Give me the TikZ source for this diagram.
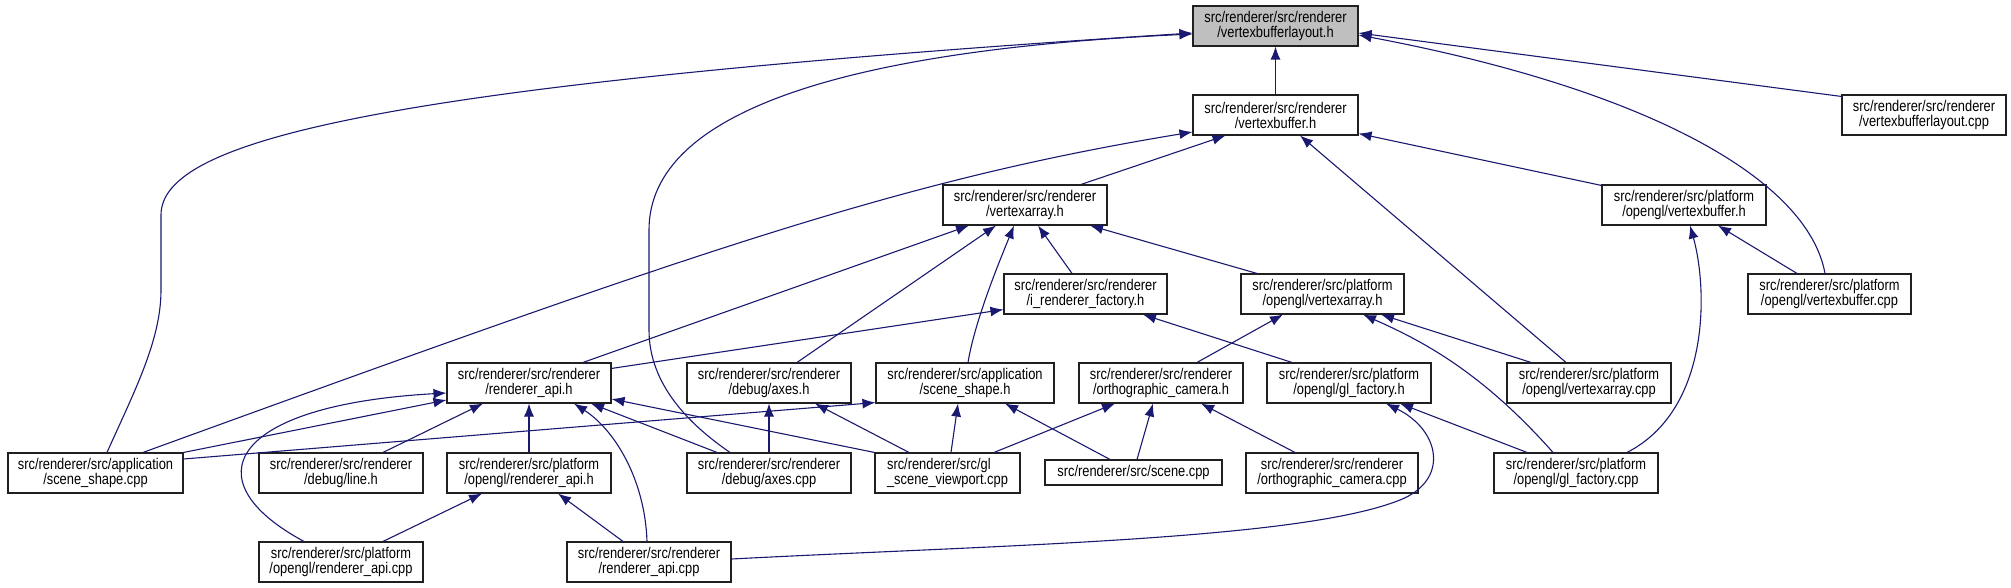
\documentclass[tikz,border=0pt]{standalone}
\usepackage{fontspec}
\setmainfont{Liberation Sans}[FakeStretch=0.83]
\usetikzlibrary{arrows.meta,calc}
\definecolor{edgeblue}{HTML}{191970}
\definecolor{rootgray}{HTML}{BFBFBF}
\definecolor{boxline}{HTML}{202020}
\begin{document}
\begin{tikzpicture}[x=1pt,y=-1pt,
  box/.style={draw=boxline, line width=1.1pt, fill=white, minimum height=40pt, minimum width=164pt,
    inner sep=0pt, align=center, font=\fontsize{15.5}{15}\selectfont},
  rootbox/.style={box, fill=rootgray},
  edge/.style={draw=edgeblue, line width=1.1pt, -{Latex[length=13pt,width=10pt]}}]
\useasboundingbox (0,0) rectangle (2011,588);
% nodes
\node[rootbox, minimum width=165pt] (vbl_h) at (1275.5,26) {src/renderer/src/renderer\\/vertexbufferlayout.h};
\node[box, minimum width=165pt] (vb_h) at (1275.5,115) {src/renderer/src/renderer\\/vertexbuffer.h};
\node[box] (vbl_cpp) at (1924,115) {src/renderer/src/renderer\\/vertexbufferlayout.cpp};
\node[box] (va_h) at (1025,205) {src/renderer/src/renderer\\/vertexarray.h};
\node[box] (ogl_vb_h) at (1684,205) {src/renderer/src/platform\\/opengl/vertexbuffer.h};
\node[box, minimum width=163pt] (irf_h) at (1085.5,294) {src/renderer/src/renderer\\/i\_renderer\_factory.h};
\node[box, minimum width=163pt] (ogl_va_h) at (1322.5,294) {src/renderer/src/platform\\/opengl/vertexarray.h};
\node[box, minimum width=163pt] (ogl_vb_cpp) at (1829.5,294) {src/renderer/src/platform\\/opengl/vertexbuffer.cpp};
\node[box] (rapi_h) at (529,383) {src/renderer/src/renderer\\/renderer\_api.h};
\node[box] (axes_h) at (769,383) {src/renderer/src/renderer\\/debug/axes.h};
\node[box, minimum width=178pt] (ss_h) at (965,383) {src/renderer/src/application\\/scene\_shape.h};
\node[box] (ortho_h) at (1161,383) {src/renderer/src/renderer\\/orthographic\_camera.h};
\node[box] (glf_h) at (1349,383) {src/renderer/src/platform\\/opengl/gl\_factory.h};
\node[box] (ogl_va_cpp) at (1589,383) {src/renderer/src/platform\\/opengl/vertexarray.cpp};
\node[box, minimum width=175pt] (ss_cpp) at (95.5,473) {src/renderer/src/application\\/scene\_shape.cpp};
\node[box] (line_h) at (341,473) {src/renderer/src/renderer\\/debug/line.h};
\node[box] (ogl_rapi_h) at (529,473) {src/renderer/src/platform\\/opengl/renderer\_api.h};
\node[box] (axes_cpp) at (769,473) {src/renderer/src/renderer\\/debug/axes.cpp};
\node[box, minimum width=145pt, align=left] (glsv_cpp) at (947.5,473) {src/renderer/src/gl\\\_scene\_viewport.cpp};
\node[box, minimum width=177pt, minimum height=25pt] (scene_cpp) at (1133.5,472.5) {src/renderer/src/scene.cpp};
\node[box, minimum width=172pt] (ortho_cpp) at (1332,473) {src/renderer/src/renderer\\/orthographic\_camera.cpp};
\node[box] (glf_cpp) at (1576,473) {src/renderer/src/platform\\/opengl/gl\_factory.cpp};
\node[box] (ogl_rapi_cpp) at (341,562) {src/renderer/src/platform\\/opengl/renderer\_api.cpp};
\node[box] (rapi_cpp) at (649,562) {src/renderer/src/renderer\\/renderer\_api.cpp};
% edges
\draw[edge] (vb_h.north) -- (vbl_h.south);
\draw[edge] ($(ss_cpp.north)+(11.5,0)$) .. controls (135,390) and (161,340) .. (161,290) -- (161,215) .. controls (161,140) and (380,85) .. ($(vbl_h.west)+(0,7)$);
\draw[edge] ($(axes_cpp.north)+(-39,0)$) .. controls (690,425) and (649,385) .. (649,330) -- (649,230) .. controls (649,110) and (850,50) .. ($(vbl_h.west)+(0,8)$);
\draw[edge] ($(vbl_cpp.north west)+(0,2)$) -- ($(vbl_h.east)+(0,7)$);
\draw[edge] ($(ogl_vb_cpp.north)+(-4.5,0)$) .. controls (1808,180) and (1650,90) .. ($(vbl_h.east)+(0,9)$);
\draw[edge] ($(va_h.north)+(56,0)$) -- ($(vb_h.south)+(-50,0)$);
\draw[edge] ($(ss_cpp.north)+(47.5,0)$) .. controls (700,250) and (900,180) .. ($(vb_h.west)+(0,17)$);
\draw[edge] ($(ogl_va_cpp.north)+(-23,0)$) -- ($(vb_h.south)+(24.5,0)$);
\draw[edge] ($(ogl_vb_h.north west)+(0,1)$) -- ($(vb_h.south east)+(0,-2)$);
\draw[edge] ($(rapi_h.north)+(54,0)$) -- ($(va_h.south)+(-56,0)$);
\draw[edge] ($(axes_h.north)+(28,0)$) -- ($(va_h.south)+(-29,0)$);
\draw[edge] ($(ss_h.north)+(3,0)$) .. controls (975,320) and (1000,260) .. ($(va_h.south)+(-11,0)$);
\draw[edge] ($(irf_h.north)+(-13.5,0)$) -- ($(va_h.south)+(13,0)$);
\draw[edge] ($(ogl_va_h.north)+(-65.5,0)$) -- ($(va_h.south)+(65,0)$);
\draw[edge] ($(ogl_vb_cpp.north)+(-32.5,0)$) -- ($(ogl_vb_h.south)+(34,0)$);
\draw[edge] ($(glf_cpp.north)+(51,0)$) .. controls (1710,410) and (1708,290) .. ($(ogl_vb_h.south)+(6,0)$);
\draw[edge] ($(rapi_h.north east)+(0,6)$) -- ($(irf_h.south west)+(0,-5)$);
\draw[edge] ($(glf_h.north)+(-57,0)$) -- ($(irf_h.south)+(57.5,0)$);
\draw[edge] ($(ortho_h.north)+(36,0)$) -- ($(ogl_va_h.south)+(-39.5,0)$);
\draw[edge] ($(ogl_va_cpp.north)+(-58,0)$) -- ($(ogl_va_h.south)+(58.5,0)$);
\draw[edge] ($(glf_cpp.north)+(-23,0)$) .. controls (1480,370) and (1420,340) .. ($(ogl_va_h.south)+(40.5,0)$);
\draw[edge] (ss_cpp.north east) -- ($(rapi_h.west)+(0,17)$);
\draw[edge] ($(ogl_rapi_cpp.north)+(-37,0)$) .. controls (190,480) and (230,405) .. ($(rapi_h.west)+(0,10)$);
\draw[edge] ($(line_h.north)+(42,0)$) -- ($(rapi_h.south)+(-46,0)$);
\draw[edge] (ogl_rapi_h.north) -- (rapi_h.south);
\draw[edge] ($(rapi_cpp.north)+(-2,0)$) .. controls (645,480) and (615,430) .. ($(rapi_h.south)+(45,0)$);
\draw[edge] ($(axes_cpp.north)+(-52,0)$) -- ($(rapi_h.south)+(62,0)$);
\draw[edge] (glsv_cpp.north west) -- ($(rapi_h.east)+(0,16)$);
\draw[edge] ($(ss_cpp.east)+(0,-14)$) -- ($(ss_h.south west)+(0,-1)$);
\draw[edge] (axes_cpp.north) -- (axes_h.south);
\draw[edge] ($(glsv_cpp.north)+(-38.5,0)$) -- ($(axes_h.south)+(46,0)$);
\draw[edge] ($(glsv_cpp.north)+(3.5,0)$) -- ($(ss_h.south)+(-7,0)$);
\draw[edge] ($(scene_cpp.north)+(-23.5,0)$) -- ($(ss_h.south)+(40,0)$);
\draw[edge] ($(glsv_cpp.north)+(46.5,0)$) -- ($(ortho_h.south)+(-46,0)$);
\draw[edge] ($(scene_cpp.north)+(3.5,0)$) -- ($(ortho_h.south)+(-8,0)$);
\draw[edge] ($(ortho_cpp.north)+(-37,0)$) -- ($(ortho_h.south)+(40,0)$);
\draw[edge] ($(glf_cpp.north)+(-49,0)$) -- ($(glf_h.south)+(51,0)$);
\draw[edge] ($(rapi_cpp.east)+(0,-3)$) .. controls (1000,545) and (1300,540) .. (1400,500) .. controls (1450,480) and (1440,430) .. ($(glf_h.south)+(37,0)$);
\draw[edge] ($(ogl_rapi_cpp.north)+(42,0)$) -- ($(ogl_rapi_h.south)+(-47,0)$);
\draw[edge] ($(rapi_cpp.north)+(-26,0)$) -- ($(ogl_rapi_h.south)+(29,0)$);
\end{tikzpicture}
\end{document}
